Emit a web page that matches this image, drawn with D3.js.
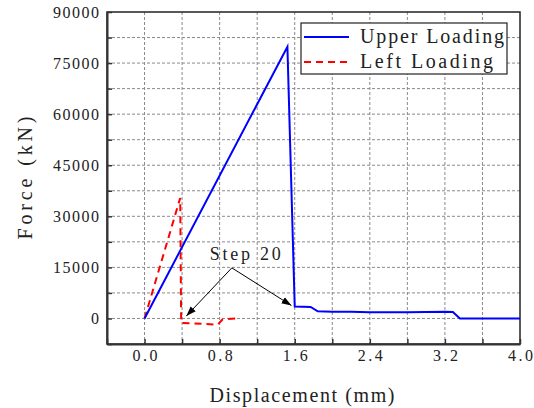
<!DOCTYPE html>
<html><head><meta charset="utf-8">
<script src="https://cdn.jsdelivr.net/npm/d3@7"></script>
<style>
body{margin:0;background:#fff}
svg{display:block}
text{font-family:"Liberation Serif","DejaVu Serif",serif;fill:#222}
</style>
</head><body>
<svg id="c" width="534" height="408"></svg>
<script>
// ---- data ----
const upperX = [0, 1.522, 1.60, 1.77, 1.845, 2.0, 2.2, 2.4, 2.6, 2.8, 3.0, 3.2, 3.285, 3.36, 4.0];
const upperY = [0, 79800, 3500, 3400, 2100, 2000, 1950, 1800, 1850, 1800, 1900, 1950, 1900, 0, 0];
const leftX = [0, 0.38, 0.39, 0.78, 0.83, 0.99];
const leftY = [0, 35400, -1300, -1800, -300, 0];
const seriesNames = ["Upper Loading", "Left Loading"];
const xTicks = [-0.4, 0, 0.4, 0.8, 1.2, 1.6, 2.0, 2.4, 2.8, 3.2, 3.6, 4.0];
const xLabelTicks = [0, 0.8, 1.6, 2.4, 3.2, 4.0];
const yTicks = [-7500, 0, 7500, 15000, 22500, 30000, 37500, 45000, 52500, 60000, 67500, 75000, 82500, 90000];
const yLabelTicks = [0, 15000, 30000, 45000, 60000, 75000, 90000];
const annoText = "Step 20";
const annoFrom = [0.93, 14860];
const annoTargets = [[0.445, 700], [1.565, 3800]];
const annoTextPos = [1.072, 17300];

// ---- layout ----
const svg = d3.select("#c");
const L = 107, R = 520, T = 12, B = 344;
const x = d3.scaleLinear().domain([-0.4, 4.0]).range([L, R]);
const y = d3.scaleLinear().domain([-7500, 90000]).range([B, T]);

// grid
const grid = svg.append("g");
grid.selectAll("line.gx").data(xTicks.filter(v => v > -0.4 && v < 4.0)).join("line")
  .attr("x1", d => x(d)).attr("x2", d => x(d)).attr("y1", T).attr("y2", B)
  .attr("stroke", "#8a8a8a").attr("stroke-width", 1).attr("stroke-dasharray", "3,2");
grid.selectAll("line.gy").data(yTicks.filter(v => v > -7500 && v < 90000)).join("line")
  .attr("y1", d => y(d)).attr("y2", d => y(d)).attr("x1", L).attr("x2", R)
  .attr("stroke", "#8a8a8a").attr("stroke-width", 1).attr("stroke-dasharray", "3,2");

// frame
svg.append("rect").attr("x", L).attr("y", T).attr("width", R - L).attr("height", B - T)
  .attr("fill", "none").attr("stroke", "#222").attr("stroke-width", 1.5);

// axes
const xAxis = d3.axisBottom(x).tickValues(xTicks).tickSizeInner(-5).tickSizeOuter(0).tickPadding(6)
  .tickFormat(d => xLabelTicks.some(v => Math.abs(v - d) < 1e-9) ? d3.format(".1f")(d) : "");
const gx = svg.append("g").attr("transform", `translate(0,${B})`).call(xAxis);
gx.select(".domain").attr("stroke", "#333").attr("stroke-width", 2);
gx.selectAll(".tick line").attr("stroke", "#333").attr("stroke-width", 1.5);
gx.selectAll(".tick text").attr("font-family", "Liberation Serif").attr("font-size", 16).attr("fill", "#222")
  .each(function(d){ if (this.textContent) d3.select(this).attr("textLength", 25).attr("lengthAdjust", "spacing"); });

const yAxis = d3.axisLeft(y).tickValues(yTicks).tickSizeInner(-5).tickSizeOuter(0).tickPadding(8)
  .tickFormat(d => yLabelTicks.includes(d) ? String(d) : "");
const gy = svg.append("g").attr("transform", `translate(${L},0)`).call(yAxis);
gy.select(".domain").attr("stroke", "#333").attr("stroke-width", 2);
gy.selectAll(".tick line").attr("stroke", "#333").attr("stroke-width", 1.5);
gy.selectAll(".tick text").attr("font-family", "Liberation Serif").attr("font-size", 16).attr("fill", "#222")
  .each(function(d){ const t = this.textContent; if (t) d3.select(this).attr("textLength", t.length * 9.2).attr("lengthAdjust", "spacing"); });

// axis titles
svg.append("text").attr("x", 302).attr("y", 402).attr("text-anchor", "middle")
  .attr("font-size", 20).attr("textLength", 185).attr("lengthAdjust", "spacing").text("Displacement (mm)");
svg.append("text").attr("transform", `translate(32,${(T + B) / 2}) rotate(-90)`).attr("text-anchor", "middle")
  .attr("font-size", 20).attr("textLength", 123).attr("lengthAdjust", "spacing").text("Force (kN)");

// lines
const line = d3.line().x(d => x(d[0])).y(d => y(d[1]));
const upper = upperX.map((v, i) => [v, upperY[i]]);
const left = leftX.map((v, i) => [v, leftY[i]]);
svg.append("path").datum(left).attr("d", line).attr("fill", "none")
  .attr("stroke", "#ff0000").attr("stroke-width", 2).attr("stroke-dasharray", "7,5");
svg.append("path").datum(upper).attr("d", line).attr("fill", "none")
  .attr("stroke", "#0000ff").attr("stroke-width", 2);

// annotation
svg.append("defs").append("marker").attr("id", "ah").attr("viewBox", "0 0 10 10")
  .attr("refX", 10).attr("refY", 5).attr("markerWidth", 10).attr("markerHeight", 10)
  .attr("markerUnits", "userSpaceOnUse").attr("orient", "auto")
  .append("path").attr("d", "M0,1.5 L10,5 L0,8.5 Z").attr("fill", "#000");
annoTargets.forEach(t => {
  svg.append("line").attr("x1", x(annoFrom[0])).attr("y1", y(annoFrom[1]))
    .attr("x2", x(t[0])).attr("y2", y(t[1])).attr("stroke", "#000").attr("stroke-width", 1)
    .attr("marker-end", "url(#ah)");
});
svg.append("text").attr("x", x(annoTextPos[0])).attr("y", y(annoTextPos[1])).attr("text-anchor", "middle")
  .attr("font-size", 18).attr("textLength", 71).attr("lengthAdjust", "spacing").text(annoText);

// legend
const lg = svg.append("g");
lg.append("rect").attr("x", 301).attr("y", 23).attr("width", 206).attr("height", 51)
  .attr("fill", "#fff").attr("stroke", "#222").attr("stroke-width", 1.2);
const legW = [144, 133];
seriesNames.forEach((n, i) => {
  const cy = 37 + i * 25;
  lg.append("line").attr("x1", 304).attr("x2", 349).attr("y1", cy).attr("y2", cy)
    .attr("stroke", i === 0 ? "#0000ff" : "#ff0000").attr("stroke-width", 2)
    .attr("stroke-dasharray", i === 0 ? null : "7,5");
  lg.append("text").attr("x", 360).attr("y", cy + 6).attr("font-size", 20)
    .attr("textLength", legW[i]).attr("lengthAdjust", "spacing").text(n);
});
</script>
</body></html>
